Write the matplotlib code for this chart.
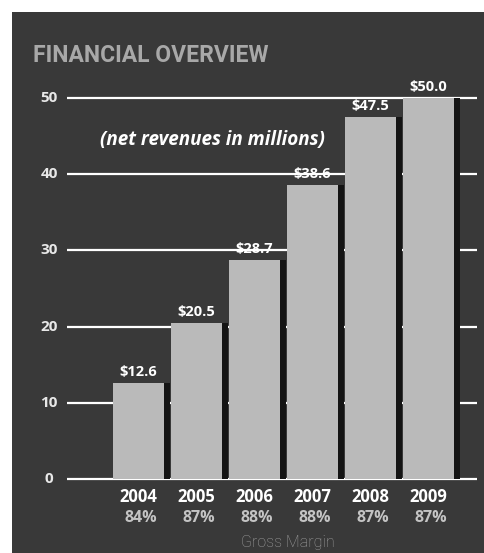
import matplotlib
matplotlib.use("Agg")
import matplotlib.pyplot as plt
from matplotlib.patches import Rectangle

years = ["2004", "2005", "2006", "2007", "2008", "2009"]
revenues = [12.6, 20.5, 28.7, 38.6, 47.5, 50.0]
gross_margin = ["84%", "87%", "88%", "88%", "87%", "87%"]
yticks = [0, 10, 20, 30, 40, 50]

narrow = "Roboto"
body = "Open Sans"

W, H = 485, 553
fig = plt.figure(figsize=(W / 100, H / 100), dpi=100)
fig.patch.set_facecolor("white")

# dark panel behind everything
panel = Rectangle((12 / W, 0), 1 - 12 / W, (H - 12) / H,
                  transform=fig.transFigure, facecolor="#393939",
                  edgecolor="none", zorder=-10)
fig.add_artist(panel)

ax = fig.add_axes([67 / W, 0.1201, 410 / W, 0.7716])
ax.set_zorder(5)
ax.set_facecolor("none")
ax.set_xlim(-1.233, 5.836)
ax.set_ylim(-1, 55)
for s in ax.spines.values():
    s.set_visible(False)
ax.set_xticks([])
ax.set_yticks([])

# horizontal grid lines and their labels
for t in yticks:
    ax.axhline(t, color="white", lw=1.6, zorder=1)
    ax.text(-1.54, t, str(t), ha="center", va="center", color="#e8e8e8",
            fontsize=11, fontweight="bold", family=body, clip_on=False)

x = list(range(len(years)))
bw = 0.88
# drop shadow bars
ax.bar([i + 0.1 for i in x], revenues, width=bw, color="#141414", zorder=2)
ax.bar(x, revenues, width=bw, color="#bababa", zorder=3)

for i, v in enumerate(revenues):
    ax.text(i, v + 0.5, f"${v:.1f}", ha="center", va="bottom", color="white",
            fontsize=10.5, fontweight="bold", family=body, zorder=4)
    ax.text(i, -2.4, years[i], ha="center", va="center", color="white",
            fontsize=12, fontweight="bold", family=body, clip_on=False)
    ax.text(i + 0.04, -5.15, gross_margin[i], ha="center", va="center", color="#c4c4c4",
            fontsize=11.5, fontweight="bold", family=body, clip_on=False)

fig.text(288 / W, 1 - 543 / H, "Gross Margin", ha="center", va="center",
         color="#a0a0a0", fontsize=11.5, fontweight="light", family=narrow)

fig.text(33 / W, 1 - 55 / H, "FINANCIAL OVERVIEW", ha="left", va="center",
         color="#a8a8a8", fontsize=16.5, fontweight="bold", family=narrow)

fig.text(100 / W, 1 - 140 / H, "(net revenues in millions)", ha="left", va="center",
         color="white", fontsize=13.6, fontweight="bold", style="italic", family=body)

fig.savefig("out.png", dpi=100, facecolor=fig.get_facecolor())
